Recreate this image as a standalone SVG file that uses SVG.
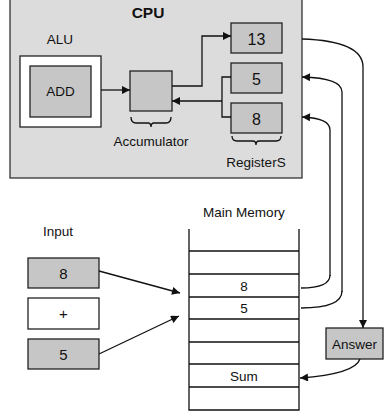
<svg xmlns="http://www.w3.org/2000/svg" width="391" height="415" viewBox="0 0 391 415">
<defs>
<style>
text{font-family:"Liberation Sans",Arial,sans-serif;fill:#111;}
.lbl{font-size:13.5px;}
.reg{fill:#c6c6c6;stroke:#222;stroke-width:1.3;}
.wh{fill:#fff;stroke:#222;stroke-width:1.3;}
.ln{fill:none;stroke:#111;stroke-width:1.3;}
.ar{fill:none;stroke:#111;stroke-width:1.3;marker-end:url(#ah);}
</style>
<marker id="ah" viewBox="0 0 10 10" refX="10" refY="5" markerWidth="9" markerHeight="8" markerUnits="userSpaceOnUse" orient="auto">
<path d="M0,0 L10,5 L0,10 z" fill="#111"/>
</marker>
</defs>
<rect x="0" y="0" width="391" height="415" fill="#fff"/>
<g id="cpu">
<rect x="10" y="-2" width="292" height="180" fill="#dcdcdc" stroke="#333" stroke-width="1.3"/>
<text x="148" y="17.5" text-anchor="middle" font-size="15.5" font-weight="bold">CPU</text>
</g>
<g id="alu">
<text class="lbl" x="60" y="44" text-anchor="middle">ALU</text>
<rect class="wh" x="20" y="56" width="81" height="71"/>
<rect class="reg" x="30" y="66" width="61" height="51"/>
<text x="60.5" y="95.5" text-anchor="middle" font-size="13.5">ADD</text>
</g>
<g id="accumulator">
<rect class="reg" x="130" y="71" width="42" height="40"/>
<path class="ln" d="M131,117 Q131,123 136,123 L148,123 Q151,123 151,127 Q151,123 154,123 L166,123 Q171,123 171,117"/>
<text class="lbl" x="151" y="146" text-anchor="middle">Accumulator</text>
</g>
<g id="registers">
<rect class="reg" x="231" y="23" width="51" height="30"/>
<text x="256.5" y="44.5" text-anchor="middle" font-size="16">13</text>
<rect class="reg" x="231" y="63" width="51" height="30"/>
<text x="256.5" y="84.5" text-anchor="middle" font-size="16">5</text>
<rect class="reg" x="231" y="103" width="51" height="30"/>
<text x="256.5" y="124.5" text-anchor="middle" font-size="16">8</text>
<path class="ln" d="M232,136 Q232,141 237,141 L253,141 Q256,141 256,145 Q256,141 259,141 L276,141 Q281,141 281,136"/>
<text class="lbl" x="256" y="167" text-anchor="middle">RegisterS</text>
</g>
<g id="input">
<text class="lbl" x="58" y="236" text-anchor="middle">Input</text>
<rect class="reg" x="28" y="258" width="71" height="30"/>
<text x="63.5" y="278.5" text-anchor="middle" font-size="15">8</text>
<rect class="wh" x="28" y="298" width="71" height="31"/>
<text x="63.5" y="319" text-anchor="middle" font-size="15">+</text>
<rect class="reg" x="28" y="339" width="71" height="30"/>
<text x="63.5" y="360" text-anchor="middle" font-size="15">5</text>
</g>
<g id="memory">
<text class="lbl" x="244" y="217" text-anchor="middle">Main Memory</text>
<path class="ln" d="M189,229 L189,410 L299,410 L299,229"/>
<path class="ln" d="M189,251 H299 M189,274 H299 M189,297 H299 M189,319 H299 M189,342 H299 M189,364 H299 M189,387 H299"/>
<text x="244" y="291" text-anchor="middle" font-size="13.5">8</text>
<text x="244" y="313" text-anchor="middle" font-size="13.5">5</text>
<text x="244" y="381" text-anchor="middle" font-size="13.5">Sum</text>
</g>
<g id="answer">
<rect class="reg" x="326" y="328" width="57" height="31"/>
<text x="354.5" y="349" text-anchor="middle" font-size="13.5">Answer</text>
</g>
<g id="connectors">
<path class="ar" d="M101,90 L130,90"/>
<path class="ar" d="M172,86 L202,86 L202,36 L231,36"/>
<path class="ln" d="M231,77 L222,77 L222,117 L231,117"/>
<path class="ar" d="M222,101 L172,101"/>
<path class="ar" d="M302,39 Q363,41 363,67 L363,328"/>
<path class="ar" d="M342,292 L342,92 Q342,78 302,77"/>
<path class="ar" d="M330,276 L330,130 Q330,118 302,117"/>
<path class="ln" d="M330,275 Q330,288 301,288"/>
<path class="ln" d="M342,291 Q342,308 301,308"/>
<path class="ar" d="M360,359 Q355,374 300,378"/>
<path class="ar" d="M99,271 L180,293"/>
<path class="ar" d="M99,354 L179,316"/>
</g>
</svg>
